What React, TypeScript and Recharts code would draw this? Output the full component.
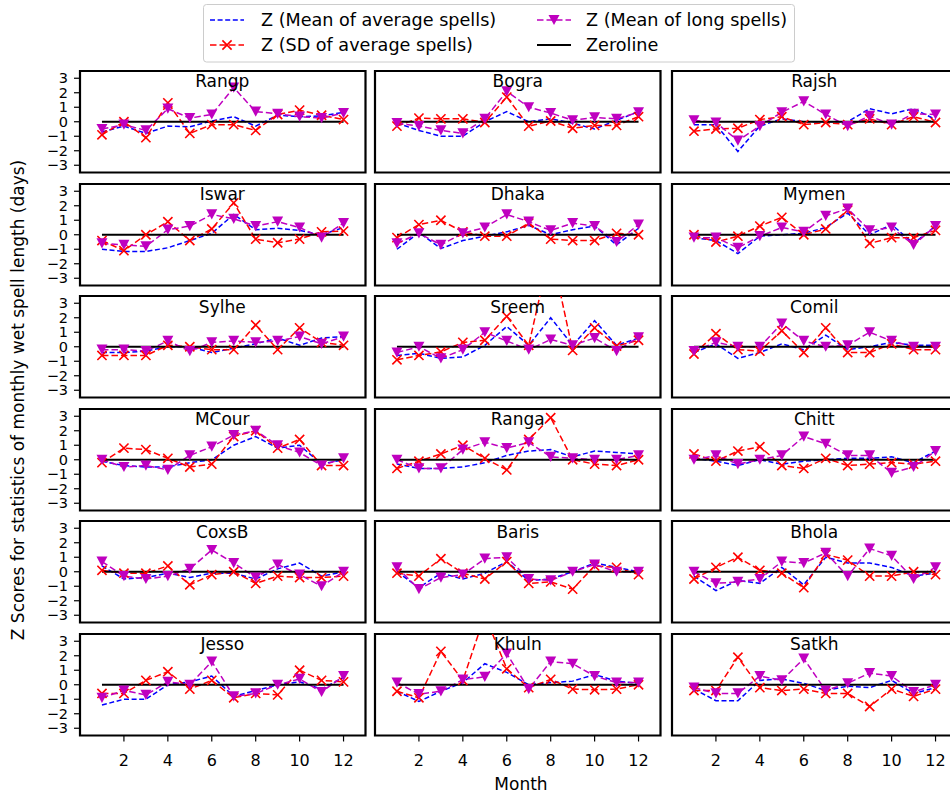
import React from 'react';
import { LineChart, Line, XAxis, YAxis, ReferenceArea } from 'recharts';

// station order, row by row (3 per row)
const stations = [
  'Rangp', 'Bogra', 'Rajsh',
  'Iswar', 'Dhaka', 'Mymen',
  'Sylhe', 'Sreem', 'Comil',
  'MCour', 'Ranga', 'Chitt',
  'CoxsB', 'Baris', 'Bhola',
  'Jesso', 'Khuln', 'Satkh',
];
const months = [1, 2, 3, 4, 5, 6, 7, 8, 9, 10, 11, 12];
const xTicks = [2, 4, 6, 8, 10, 12];
const yTicks = [-3, -2, -1, 0, 1, 2, 3];

// Z (Mean of average spells)
const meanAverage = [
  [-0.7, -0.3, -0.8, -0.3, -0.35, 0.05, 0.35, -0.3, 0.45, 0.35, 0.4, 0.65],
  [-0.1, -0.6, -1.0, -1.0, 0.0, 0.7, 0.0, 0.2, -0.1, -0.5, 0.1, 0.7],
  [-0.2, -0.2, -2.05, -0.3, 0.2, 0.0, 0.0, 0.0, 0.9, 0.55, 0.9, 0.15],
  [-1.0, -1.15, -1.15, -0.9, -0.4, 0.1, 1.4, 0.35, 0.45, 0.3, 0.0, 0.5],
  [-1.0, 0.15, -0.95, -0.4, -0.1, 0.2, 0.65, 0.0, 0.35, 0.6, -0.7, 0.45],
  [-0.2, -0.4, -1.3, -0.1, 0.0, 0.1, 0.5, 1.5, 0.0, 0.7, -0.6, 0.6],
  [-0.4, -0.4, -0.3, 0.0, 0.0, -0.4, -0.1, 0.2, 0.6, 0.1, 0.6, 0.7],
  [-0.6, -0.45, -0.8, -0.7, 0.1, 1.4, 0.1, 2.0, 0.1, 1.8, 0.1, 0.6],
  [-0.4, 0.2, -0.8, -0.4, 0.2, -0.2, 0.8, -0.2, 0.0, 0.3, 0.1, 0.1],
  [-0.1, -0.4, -0.5, -0.5, -0.2, 0.0, 1.0, 1.6, 0.8, 1.0, -0.3, 0.0],
  [-0.3, -0.6, -0.6, -0.5, -0.2, 0.3, 0.6, 0.7, 0.2, 0.6, 0.5, 0.4],
  [0.1, -0.1, -0.4, 0.0, -0.3, -0.1, 0.0, 0.1, 0.1, 0.2, -0.2, 0.6],
  [0.4, -0.5, -0.4, -0.1, -0.4, -0.1, -0.1, -0.5, 0.2, 0.6, -0.3, 0.0],
  [0.0, -1.1, -0.1, -0.5, -0.1, 0.7, -0.6, -0.5, 0.0, 0.6, 0.3, 0.0],
  [-0.3, -1.3, -0.6, -0.8, 0.3, -0.9, 1.0, 0.6, 0.6, 0.3, -0.3, -0.1],
  [-1.4, -1.0, -1.0, 0.0, 0.2, 0.6, -0.8, -0.4, 0.0, 0.2, -0.3, 0.5],
  [-0.45, -1.15, -0.45, 0.15, 1.45, 0.85, 0.0, 0.15, 0.25, 0.7, 0.25, 0.1],
  [-0.3, -1.1, -1.1, 0.3, 0.4, 0.1, -0.4, -0.1, -0.2, 0.3, -0.6, -0.2],
];

// Z (SD of average spells)
const sdAverage = [
  [-0.9, 0.0, -1.1, 1.3, -0.8, -0.2, -0.2, -0.6, 0.5, 0.8, 0.45, 0.15],
  [-0.3, 0.25, 0.2, 0.2, -0.05, 1.7, -0.3, 0.05, -0.45, -0.25, -0.25, 0.35],
  [-0.65, -0.5, -0.45, 0.15, 0.35, -0.2, -0.05, -0.2, 0.2, -0.2, 0.35, -0.05],
  [-0.4, -1.1, 0.0, 0.9, -0.4, 0.4, 2.2, -0.3, -0.55, -0.3, 0.2, 0.25],
  [-0.2, 0.7, 1.0, 0.2, -0.1, -0.1, 0.8, -0.3, -0.4, -0.4, 0.1, 0.0],
  [0.0, -0.5, -0.1, 0.6, 1.2, 0.0, 0.4, 1.7, -0.6, -0.2, -0.2, 0.3],
  [-0.6, -0.6, -0.6, 0.1, 0.0, -0.2, -0.2, 1.5, -0.2, 1.3, 0.3, 0.1],
  [-0.9, -0.6, -0.35, 0.3, 0.45, 2.1, 0.1, 6.8, -0.25, 1.3, 0.05, 0.45],
  [-0.5, 0.9, -0.2, -0.3, 1.1, -0.4, 1.3, -0.4, -0.4, 0.2, -0.2, -0.2],
  [-0.2, 0.8, 0.7, 0.1, -0.5, -0.3, 1.6, 2.0, 0.8, 1.4, -0.4, -0.4],
  [-0.6, -0.1, 0.4, 1.0, 0.1, -0.7, 1.4, 2.9, 0.0, -0.3, -0.4, 0.0],
  [0.4, -0.1, 0.6, 0.9, -0.4, -0.6, 0.1, -0.4, -0.3, -0.2, -0.3, -0.1],
  [0.1, -0.1, -0.1, 0.4, -0.9, -0.2, 0.0, -0.8, -0.3, -0.4, -0.4, -0.3],
  [-0.1, -0.3, 0.9, -0.1, -0.5, 0.7, -0.8, -0.7, -1.2, 0.4, 0.3, -0.2],
  [-0.5, 0.3, 1.0, 0.1, -0.1, -1.1, 1.2, 0.8, -0.3, -0.3, 0.0, -0.2],
  [-0.6, -0.6, 0.3, 0.9, -0.3, 0.3, -0.9, -0.6, -0.7, 1.0, 0.3, 0.2],
  [-0.45, -0.9, 2.3, 0.3, 4.8, 1.1, -0.2, 0.37, -0.3, -0.35, -0.3, 0.0],
  [-0.4, -0.4, 1.9, -0.2, -0.4, -0.3, -0.6, -0.6, -1.5, -0.3, -0.8, -0.3],
];

// Z (Mean of long spells)
const meanLong = [
  [-0.5, -0.2, -0.6, 0.9, 0.25, 0.5, 2.35, 0.7, 0.55, 0.35, 0.25, 0.6],
  [-0.1, -0.3, -0.6, -0.8, 0.2, 2.1, 1.0, 0.6, 0.1, 0.3, 0.2, 0.65],
  [0.1, -0.05, -1.3, -0.3, 0.65, 1.4, 0.5, -0.3, 0.4, -0.2, 0.55, 0.5],
  [-0.6, -0.7, -0.8, 0.35, 0.6, 1.4, 1.1, 0.6, 0.9, 0.5, -0.2, 0.8],
  [-0.6, 0.1, -0.7, 0.1, 0.5, 1.4, 0.9, 0.3, 0.8, 0.6, -0.5, 0.7],
  [-0.2, -0.2, -0.9, -0.1, 0.5, 0.2, 1.3, 1.8, 0.3, 0.5, -0.7, 0.6],
  [-0.2, -0.2, -0.3, 0.4, -0.3, 0.3, 0.4, 0.3, 0.4, 0.7, 0.2, 0.7],
  [-0.4, 0.0, -0.8, -0.2, 1.0, 0.4, -0.2, 0.5, 0.1, 0.6, -0.3, 0.65],
  [-0.3, 0.3, 0.0, 0.0, 1.6, 0.4, 0.0, 0.1, 1.0, 0.4, 0.0, 0.0],
  [0.0, -0.5, -0.4, -0.7, 0.3, 0.9, 1.7, 2.0, 1.0, 0.5, -0.4, 0.1],
  [0.0, -0.6, -0.6, 0.7, 1.2, 0.8, 1.2, 0.2, 0.1, 0.0, 0.0, 0.3],
  [0.0, 0.3, -0.3, 0.0, 0.3, 1.6, 1.1, 0.3, 0.3, -0.9, -0.5, 0.6],
  [0.7, -0.3, -0.5, -0.3, 0.2, 1.5, 0.6, -0.4, 0.5, -0.2, -1.0, 0.0],
  [0.3, -1.2, -0.4, -0.2, 0.9, 1.0, -0.5, -0.6, 0.0, 0.5, 0.0, 0.0],
  [0.0, -0.8, -0.7, -0.5, 0.7, 0.6, 1.3, -0.3, 1.6, 1.1, -0.5, 0.3],
  [-0.9, -0.4, -0.7, 0.2, 0.0, 1.6, -0.8, -0.6, 0.0, 0.4, -0.5, 0.6],
  [0.15, -0.65, -0.45, 0.35, 0.55, 2.15, -0.3, 1.6, 1.45, 0.6, 0.15, 0.15],
  [-0.2, -0.6, -0.6, 0.6, 0.3, 1.8, -0.4, 0.1, 0.8, 0.6, -0.5, 0.0],
];

const zeroline = months.map(() => 0);

const colors = {
  mean: '#0000ff',
  sd: '#ff0000',
  long: '#bf00bf',
  zero: '#000000',
  legendEdge: '#cccccc',
};

const font = '"DejaVu Sans", sans-serif';

// panel geometry (plot areas)
const colLeft = [79.5, 375, 671.5];
const rowTop0 = 71;
const rowStep = 112.6;
const panelW = 285.5;
const panelH = 101.5;
const yAxisW = 44;
const xAxisH = 40;

const minus = (v: number) => (v < 0 ? '\u2212' + Math.abs(v) : String(v));

const XMark = (props: any) => {
  const { cx, cy, index } = props;
  if (cx == null || cy == null) return <g key={`x-${index}`} />;
  const s = 4.6;
  return (
    <path
      key={`x-${index}`}
      d={`M${cx - s},${cy - s}L${cx + s},${cy + s}M${cx - s},${cy + s}L${cx + s},${cy - s}`}
      stroke={colors.sd}
      strokeWidth={1.6}
      fill="none"
    />
  );
};

const TriDown = (props: any) => {
  const { cx, cy, index } = props;
  if (cx == null || cy == null) return <g key={`v-${index}`} />;
  const w = 5.5;
  const h = 5.1;
  return (
    <path
      key={`v-${index}`}
      d={`M${cx - w},${cy - h}L${cx + w},${cy - h}L${cx},${cy + h}Z`}
      fill={colors.long}
      stroke="none"
    />
  );
};

function Panel({ k }: { k: number }) {
  const col = k % 3;
  const row = Math.floor(k / 3);
  const isLeft = col === 0;
  const isBottom = row === 5;
  const left = colLeft[col] - (isLeft ? yAxisW : 0);
  const top = rowTop0 + row * rowStep;
  const width = panelW + (isLeft ? yAxisW : 0);
  const height = panelH + (isBottom ? xAxisH : 0);

  const data = months.map((m, i) => ({
    month: m,
    avg: meanAverage[k][i],
    sd: sdAverage[k][i],
    long: meanLong[k][i],
    zero: zeroline[i],
  }));

  return (
    <div style={{ position: 'absolute', left, top, width, height }}>
      <LineChart width={width} height={height} data={data} margin={{ top: 0, right: 0, bottom: 0, left: 0 }}>
        <XAxis
          dataKey="month"
          type="number"
          domain={[0, 13]}
          ticks={xTicks}
          allowDataOverflow
          height={isBottom ? xAxisH : 0}
          axisLine={false}
          tickLine={isBottom ? { stroke: '#000', strokeWidth: 1.2 } : false}
          tick={isBottom ? { fill: '#000', fontSize: 16, fontFamily: font } : false}
          tickSize={6}
          tickMargin={13}
          interval={0}
        />
        <YAxis
          type="number"
          domain={[-3.5, 3.5]}
          ticks={yTicks}
          allowDataOverflow
          width={isLeft ? yAxisW : 0}
          axisLine={false}
          tickLine={isLeft ? { stroke: '#000', strokeWidth: 1.2 } : false}
          tick={isLeft ? { fill: '#000', fontSize: 14.5, fontFamily: font } : false}
          tickFormatter={minus}
          tickSize={6}
          tickMargin={6}
          interval={0}
        />
        <ReferenceArea
          x1={0}
          x2={13}
          y1={-3.5}
          y2={3.5}
          fill="none"
          fillOpacity={0}
          stroke="#000"
          strokeWidth={2.2}
          ifOverflow="visible"
        />
        <Line
          dataKey="avg"
          stroke={colors.mean}
          strokeWidth={1.5}
          strokeDasharray="5 2.6"
          dot={false}
          activeDot={false}
          isAnimationActive={false}
        />
        <Line
          dataKey="sd"
          stroke={colors.sd}
          strokeWidth={1.5}
          strokeDasharray="6.5 3"
          dot={XMark}
          activeDot={false}
          isAnimationActive={false}
        />
        <Line
          dataKey="long"
          stroke={colors.long}
          strokeWidth={1.5}
          strokeDasharray="6.5 3"
          dot={TriDown}
          activeDot={false}
          isAnimationActive={false}
        />
        <Line
          dataKey="zero"
          stroke={colors.zero}
          strokeWidth={2}
          dot={false}
          activeDot={false}
          isAnimationActive={false}
        />
      </LineChart>
    </div>
  );
}

function Overlay() {
  const legendRows = [20, 45];
  return (
    <svg
      width={950}
      height={794}
      style={{ position: 'absolute', left: 0, top: 0, pointerEvents: 'none', fontFamily: font }}
    >
      {stations.map((name, k) => {
        const col = k % 3;
        const row = Math.floor(k / 3);
        return (
          <text
            key={name}
            x={colLeft[col] + panelW / 2}
            y={rowTop0 + row * rowStep + 16.3}
            textAnchor="middle"
            fontSize={17}
            fill="#000"
          >
            {name}
          </text>
        );
      })}
      <text x={521} y={790} textAnchor="middle" fontSize={17} fill="#000">
        Month
      </text>
      <text
        x={18}
        y={400}
        textAnchor="middle"
        dominantBaseline="central"
        fontSize={17}
        fill="#000"
        transform="rotate(-90 18 400)"
      >
        Z Scores for statistics of monthly wet spell length (days)
      </text>

      {/* legend */}
      <rect x={203.5} y={4.5} width={591} height={57.5} rx={3} fill="#fff" fillOpacity={0.8} stroke={colors.legendEdge} />
      <line x1={210} x2={244} y1={legendRows[0]} y2={legendRows[0]} stroke={colors.mean} strokeWidth={1.5} strokeDasharray="5 2.6" />
      <text x={261} y={legendRows[0] + 6} fontSize={17.6} fill="#000">Z (Mean of average spells)</text>
      <line x1={210} x2={244} y1={legendRows[1]} y2={legendRows[1]} stroke={colors.sd} strokeWidth={1.5} strokeDasharray="6.5 3" />
      <XMark cx={227} cy={legendRows[1]} index="lg" />
      <text x={261} y={legendRows[1] + 6} fontSize={17.6} fill="#000">Z (SD of average spells)</text>
      <line x1={537} x2={571} y1={legendRows[0]} y2={legendRows[0]} stroke={colors.long} strokeWidth={1.5} strokeDasharray="6.5 3" />
      <TriDown cx={554} cy={legendRows[0]} index="lg" />
      <text x={586} y={legendRows[0] + 6} fontSize={17.6} fill="#000">Z (Mean of long spells)</text>
      <line x1={537} x2={571} y1={legendRows[1]} y2={legendRows[1]} stroke={colors.zero} strokeWidth={2} />
      <text x={586} y={legendRows[1] + 6} fontSize={17.6} fill="#000">Zeroline</text>
    </svg>
  );
}

export default function App() {
  return (
    <div
      style={{
        position: 'absolute',
        left: 0,
        top: 0,
        width: 950,
        height: 794,
        background: '#fff',
        overflow: 'hidden',
        fontFamily: font,
      }}
    >
      <style>{'.recharts-surface { overflow: visible; }'}</style>
      {stations.map((_, k) => (
        <Panel key={k} k={k} />
      ))}
      <Overlay />
    </div>
  );
}
